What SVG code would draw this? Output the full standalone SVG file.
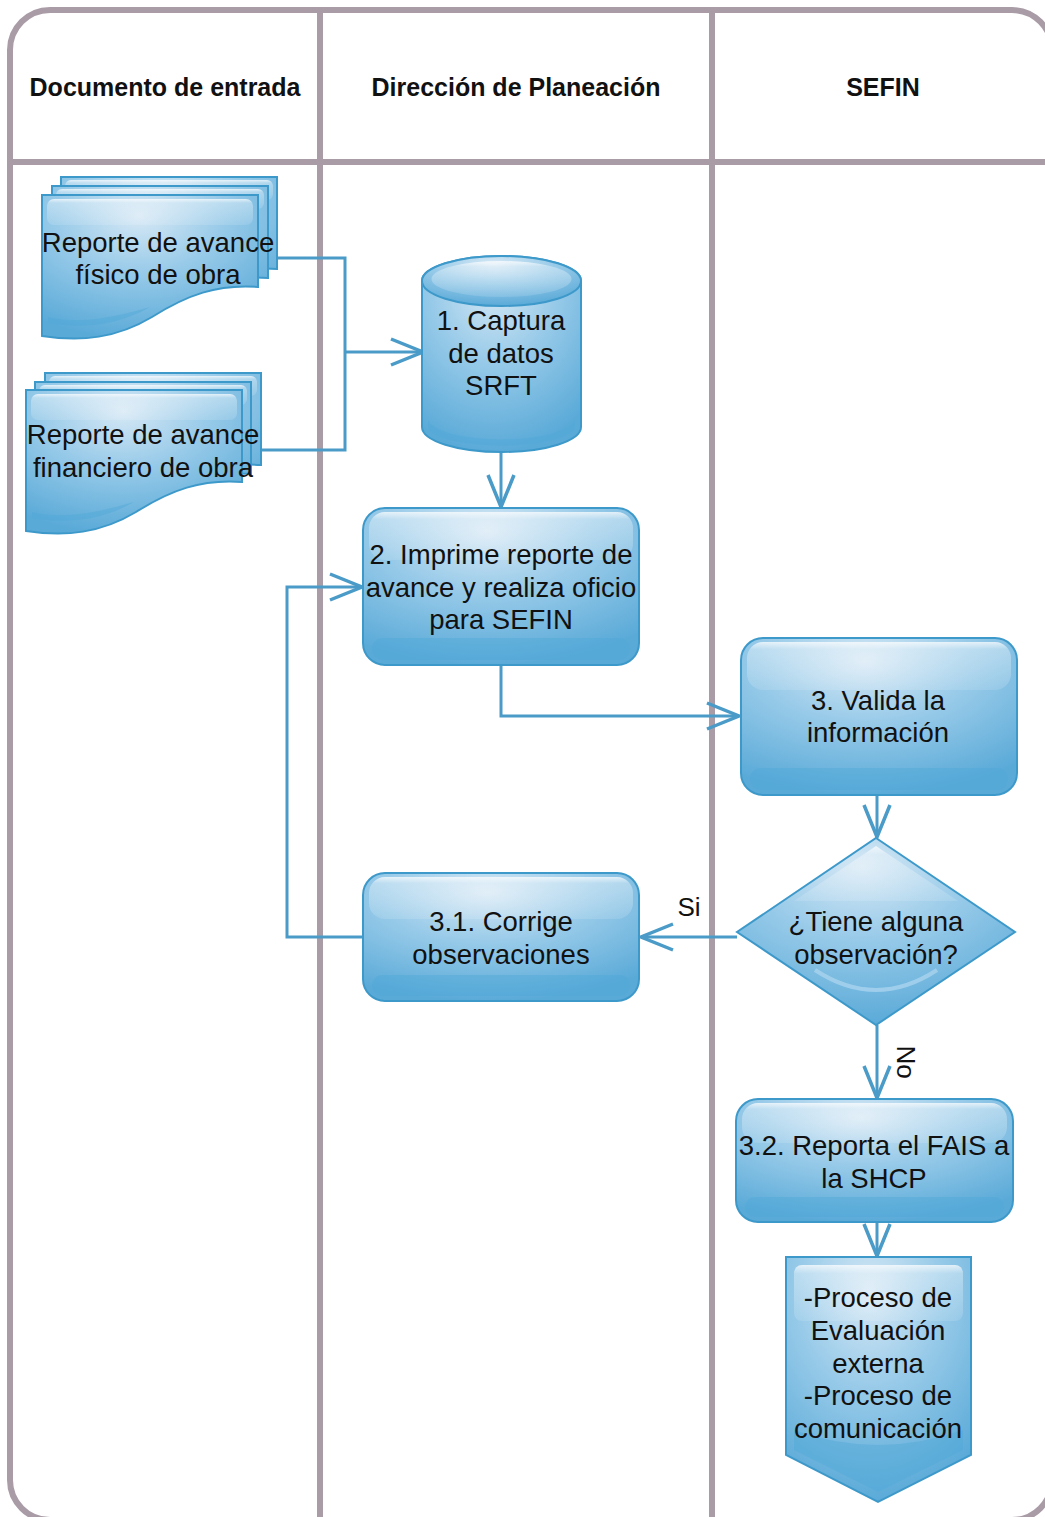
<svg xmlns="http://www.w3.org/2000/svg" width="1045" height="1517" viewBox="0 0 1045 1517">
  <defs>
    <style>
      .lane { fill: none; stroke: #a99ca7; stroke-width: 6; }
      .hdr { font-family: "Liberation Sans", Arial, sans-serif; font-weight: bold; font-size: 25px; fill: #111; text-anchor: middle; }
      .lbl { font-family: "Liberation Sans", Arial, sans-serif; font-size: 27.5px; fill: #111; text-anchor: middle; }
      .shape { fill: url(#body); stroke: #3d99ca; stroke-width: 2; }
      .gloss { fill: url(#gloss); }
      .band { fill: #4fa8d8; opacity: 0.45; }
      .conn { fill: none; stroke: #4a9bc7; stroke-width: 3; }
      .arrow { marker-end: url(#open); }
    </style>
    <radialGradient id="body" cx="0.45" cy="0.15" r="0.85">
      <stop offset="0" stop-color="#d6e8f5"/>
      <stop offset="0.45" stop-color="#99cbe9"/>
      <stop offset="1" stop-color="#5aaad8"/>
    </radialGradient>
    <linearGradient id="gloss" x1="0" y1="0" x2="0" y2="1">
      <stop offset="0" stop-color="#ffffff" stop-opacity="0.75"/>
      <stop offset="0.15" stop-color="#ffffff" stop-opacity="0.35"/>
      <stop offset="1" stop-color="#ffffff" stop-opacity="0.12"/>
    </linearGradient>
    <marker id="open" viewBox="0 0 40 32" refX="36" refY="16" markerWidth="40" markerHeight="32" markerUnits="userSpaceOnUse" orient="auto">
      <path d="M4,3 L36,16 L4,29" fill="none" stroke="#4a9bc7" stroke-width="3.5"/>
    </marker>
    <!-- document page outline, local coordinates -->
    <path id="page" d="M0,0 H216 V92 C175,89 145,100 110,122 C75,143 40,147 0,141 Z"/>
  </defs>

  <!-- swimlane frame -->
  <g id="lanes">
    <rect class="lane" x="10" y="10" width="1042" height="1510" rx="40"/>
    <line class="lane" x1="10" y1="162" x2="1052" y2="162"/>
    <line class="lane" x1="320" y1="10" x2="320" y2="1520"/>
    <line class="lane" x1="712" y1="10" x2="712" y2="1520"/>
    <text class="hdr" x="165" y="96">Documento de entrada</text>
    <text class="hdr" x="516" y="96">Dirección de Planeación</text>
    <text class="hdr" x="883" y="96">SEFIN</text>
  </g>

  <!-- connectors -->
  <g id="connectors">
    <polyline class="conn" points="274,258 345,258 345,450 258,450"/>
    <line class="conn arrow" x1="345" y1="352" x2="423" y2="352"/>
    <line class="conn arrow" x1="501" y1="452" x2="501" y2="507"/>
    <polyline class="conn arrow" points="501,665 501,716 739,716"/>
    <line class="conn arrow" x1="877" y1="795" x2="877" y2="837"/>
    <line class="conn arrow" x1="737" y1="937" x2="641" y2="937"/>
    <polyline class="conn arrow" points="363,937 287,937 287,587 362,587"/>
    <line class="conn arrow" x1="877" y1="1025" x2="877" y2="1098"/>
    <line class="conn arrow" x1="877" y1="1222" x2="877" y2="1256"/>
    <text class="lbl" x="689" y="916" style="font-size:26px">Si</text>
    <text class="lbl" x="0" y="0" style="font-size:26px" transform="translate(897,1062) rotate(90)">No</text>
  </g>

  <!-- input document: physical progress -->
  <g id="doc-fisico">
    <g transform="translate(61,177)">
      <use href="#page" class="shape"/>
      <rect class="gloss" x="4" y="3" width="208" height="20" rx="6"/>
    </g>
    <g transform="translate(52,186)">
      <use href="#page" class="shape"/>
      <rect class="gloss" x="4" y="3" width="208" height="20" rx="6"/>
    </g>
    <g transform="translate(42,195)">
      <use href="#page" class="shape"/>
      <rect class="gloss" x="5" y="4" width="206" height="26" rx="7"/>
      <path class="band" d="M6,128 C40,134 75,131 108,112 C60,126 30,128 6,122 Z"/>
    </g>
    <text class="lbl" x="158" y="252">Reporte de avance</text>
    <text class="lbl" x="158" y="284">físico de obra</text>
  </g>

  <!-- input document: financial progress -->
  <g id="doc-financiero">
    <g transform="translate(45,373)">
      <use href="#page" class="shape"/>
      <rect class="gloss" x="4" y="3" width="208" height="20" rx="6"/>
    </g>
    <g transform="translate(35,382)">
      <use href="#page" class="shape"/>
      <rect class="gloss" x="4" y="3" width="208" height="20" rx="6"/>
    </g>
    <g transform="translate(26,390)">
      <use href="#page" class="shape"/>
      <rect class="gloss" x="5" y="4" width="206" height="26" rx="7"/>
      <path class="band" d="M6,128 C40,134 75,131 108,112 C60,126 30,128 6,122 Z"/>
    </g>
    <text class="lbl" x="143" y="444">Reporte de avance</text>
    <text class="lbl" x="143" y="477">financiero de obra</text>
  </g>

  <!-- 1. data capture (database) -->
  <g id="n1-captura">
    <path class="shape" d="M422,281 V427 A79.5,25 0 0 0 581,427 V281 A79.5,25 0 0 0 422,281 Z"/>
    <ellipse class="shape" cx="501.5" cy="281" rx="79.5" ry="25"/>
    <ellipse class="gloss" cx="501.5" cy="279" rx="70" ry="18"/>
    <path class="band" d="M428,420 A74,22 0 0 0 575,420 V428 A74,20 0 0 1 428,428 Z"/>
    <text class="lbl" x="501" y="330">1. Captura</text>
    <text class="lbl" x="501" y="363">de datos</text>
    <text class="lbl" x="501" y="395">SRFT</text>
  </g>

  <!-- 2. print report -->
  <g id="n2-imprime">
    <rect class="shape" x="363" y="508" width="276" height="157" rx="22"/>
    <rect class="gloss" x="369" y="512" width="264" height="48" rx="16"/>
    <rect class="band" x="372" y="638" width="258" height="22" rx="11"/>
    <text class="lbl" x="501" y="564">2. Imprime reporte de</text>
    <text class="lbl" x="501" y="597">avance y realiza oficio</text>
    <text class="lbl" x="501" y="629">para SEFIN</text>
  </g>

  <!-- 3. validate -->
  <g id="n3-valida">
    <rect class="shape" x="741" y="638" width="276" height="157" rx="22"/>
    <rect class="gloss" x="747" y="642" width="264" height="48" rx="16"/>
    <rect class="band" x="750" y="768" width="258" height="22" rx="11"/>
    <text class="lbl" x="878" y="710">3. Valida la</text>
    <text class="lbl" x="878" y="742">información</text>
  </g>

  <!-- decision -->
  <g id="d-observacion">
    <polygon class="shape" points="876,838 1015,932 876,1025 737,932"/>
    <path class="gloss" d="M876,846 L958,901 H794 Z"/>
    <path d="M815,970 Q876,1010 937,970" fill="none" stroke="#a9d3ee" stroke-width="4" opacity="0.8"/>
    <text class="lbl" x="876" y="931">¿Tiene alguna</text>
    <text class="lbl" x="876" y="964">observación?</text>
  </g>

  <!-- 3.1 correct -->
  <g id="n31-corrige">
    <rect class="shape" x="363" y="873" width="276" height="128" rx="22"/>
    <rect class="gloss" x="369" y="877" width="264" height="42" rx="16"/>
    <rect class="band" x="372" y="975" width="258" height="21" rx="10"/>
    <text class="lbl" x="501" y="931">3.1. Corrige</text>
    <text class="lbl" x="501" y="964">observaciones</text>
  </g>

  <!-- 3.2 report -->
  <g id="n32-reporta">
    <rect class="shape" x="736" y="1099" width="277" height="123" rx="22"/>
    <rect class="gloss" x="742" y="1103" width="265" height="40" rx="16"/>
    <rect class="band" x="745" y="1197" width="259" height="20" rx="10"/>
    <text class="lbl" x="874" y="1155">3.2. Reporta el FAIS a</text>
    <text class="lbl" x="874" y="1188">la SHCP</text>
  </g>

  <!-- off-page connector -->
  <g id="fin-procesos">
    <path class="shape" d="M786,1257 H971 V1455 L878,1502 L786,1455 Z"/>
    <rect class="gloss" x="794" y="1265" width="169" height="56" rx="8"/>
    <path class="band" d="M794,1430 Q878,1460 963,1430 V1450 L878,1492 L794,1450 Z" opacity="0.3"/>
    <text class="lbl" x="878" y="1307">-Proceso de</text>
    <text class="lbl" x="878" y="1340">Evaluación</text>
    <text class="lbl" x="878" y="1373">externa</text>
    <text class="lbl" x="878" y="1405">-Proceso de</text>
    <text class="lbl" x="878" y="1438">comunicación</text>
  </g>
</svg>
